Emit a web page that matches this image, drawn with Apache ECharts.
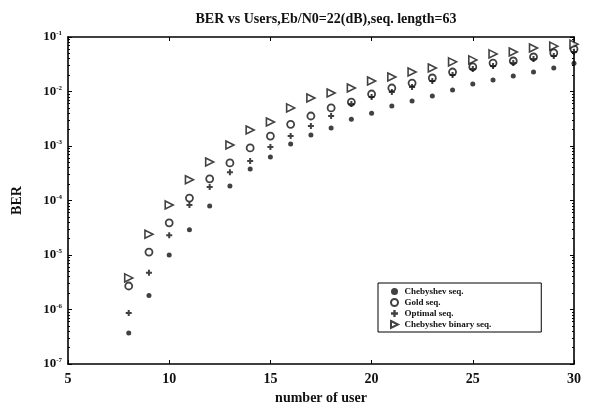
<!DOCTYPE html>
<html>
<head>
<meta charset="utf-8">
<script src="https://cdn.jsdelivr.net/npm/echarts@6/dist/echarts.min.js"></script>
<style>
  html, body { margin: 0; padding: 0; background: #fff; }
  #main { width: 594px; height: 411px; }
</style>
</head>
<body>
<div id="main"></div>
<script>
var users = [8, 9, 10, 11, 12, 13, 14, 15, 16, 17, 18, 19, 20, 21, 22, 23, 24, 25, 26, 27, 28, 29, 30];

// BER values
var chebySeq = [3.7e-7, 1.8e-6, 1.0e-5, 2.9e-5, 7.9e-5, 1.85e-4, 3.8e-4, 6.3e-4, 1.09e-3, 1.59e-3, 2.14e-3, 3.1e-3,
  4.0e-3, 5.4e-3, 6.7e-3, 8.3e-3, 1.07e-2, 1.37e-2, 1.63e-2, 1.92e-2, 2.28e-2, 2.7e-2, 3.3e-2];
var goldSeq = [2.7e-6, 1.13e-5, 3.9e-5, 1.11e-4, 2.5e-4, 4.9e-4, 9.2e-4, 1.52e-3, 2.5e-3, 3.55e-3, 5.0e-3, 6.4e-3,
  9.0e-3, 1.16e-2, 1.43e-2, 1.77e-2, 2.28e-2, 2.82e-2, 3.33e-2, 3.63e-2, 4.3e-2, 5.1e-2, 6.0e-2];
var optimalSeq = [8.6e-7, 4.7e-6, 2.3e-5, 8.3e-5, 1.77e-4, 3.3e-4, 5.3e-4, 9.6e-4, 1.52e-3, 2.33e-3, 3.55e-3, 5.9e-3,
  7.9e-3, 9.8e-3, 1.21e-2, 1.56e-2, 2.0e-2, 2.6e-2, 2.94e-2, 3.33e-2, 3.95e-2, 4.5e-2, 5.3e-2];
var chebyBinSeq = [3.8e-6, 2.4e-5, 8.3e-5, 2.4e-4, 5.1e-4, 1.04e-3, 1.97e-3, 2.75e-3, 5.0e-3, 7.6e-3, 9.4e-3, 1.16e-2,
  1.56e-2, 1.85e-2, 2.28e-2, 2.7e-2, 3.5e-2, 3.8e-2, 4.9e-2, 5.3e-2, 6.3e-2, 6.8e-2, 7.4e-2];

var seriesNames = ['Chebyshev seq.', 'Gold seq.', 'Optimal seq.', 'Chebyshev binary seq.'];

var font = 'Liberation Serif';
var plusPath = 'path://M2,0H4V2H6V4H4V6H2V4H0V2H2Z';
var triRight = 'path://M0,0L10,5L0,10Z';

function pairs(arr) {
  return users.map(function (u, i) { return [u, arr[i]]; });
}

function logLabel(v) {
  var e = Math.round(Math.log(v) / Math.LN10);
  return '10{e|' + e + '}';
}

var myChart = echarts.init(document.getElementById('main'));

var axisLine = { lineStyle: { color: '#000', width: 1.6 } };
var axisTick = { inside: true, length: 4, lineStyle: { color: '#000' } };
var minorTick = { show: true, splitNumber: 9, length: 2, lineStyle: { color: '#000' } };

var option = {
  backgroundColor: '#fff',
  animation: false,
  title: {
    text: 'BER vs Users,Eb/N0=22(dB),seq. length=63',
    left: 321,
    top: 7,
    textAlign: 'center',
    textStyle: { fontFamily: font, fontSize: 14, fontWeight: 'bold', color: '#111' }
  },
  grid: { left: 68, right: 20, top: 37, bottom: 47 },
  legend: {
    orient: 'vertical',
    left: 378,
    top: 283,
    data: [
      { name: seriesNames[0], icon: 'circle' },
      { name: seriesNames[1], icon: 'circle' },
      { name: seriesNames[2], icon: plusPath },
      { name: seriesNames[3], icon: triRight }
    ],
    itemWidth: 10,
    itemHeight: 7,
    itemGap: 2,
    padding: [4, 50, 3, 12],
    borderColor: '#000',
    borderWidth: 1,
    backgroundColor: '#fff',
    textStyle: { fontFamily: font, fontSize: 9, fontWeight: 'bold', color: '#111' }
  },
  xAxis: [{
    type: 'value',
    min: 5, max: 30, interval: 5,
    name: 'number of user',
    nameLocation: 'middle',
    nameGap: 26,
    nameTextStyle: { fontFamily: font, fontSize: 14, fontWeight: 'bold', color: '#111' },
    axisLabel: { fontFamily: font, fontSize: 14, fontWeight: 'bold', color: '#111', margin: 8 },
    axisLine: axisLine, axisTick: axisTick, splitLine: { show: false }
  }, {
    type: 'value',
    position: 'top',
    min: 5, max: 30, interval: 5,
    axisLabel: { show: false },
    axisLine: axisLine, axisTick: axisTick, splitLine: { show: false }
  }],
  yAxis: [{
    type: 'log',
    logBase: 10,
    min: 1e-7, max: 1e-1,
    name: 'BER',
    nameLocation: 'middle',
    nameGap: 44,
    nameRotate: 90,
    nameTextStyle: { fontFamily: font, fontSize: 14, fontWeight: 'bold', color: '#111' },
    axisLabel: {
      formatter: logLabel,
      fontFamily: font, fontSize: 13, fontWeight: 'bold', color: '#111', margin: 6,
      rich: {
        e: { fontFamily: font, fontSize: 7, fontWeight: 'bold', color: '#111', verticalAlign: 'top', padding: [0, 0, 7, 0] }
      }
    },
    minorTick: minorTick,
    axisLine: axisLine, axisTick: axisTick, splitLine: { show: false }
  }, {
    type: 'log',
    logBase: 10,
    min: 1e-7, max: 1e-1,
    position: 'right',
    axisLabel: { show: false },
    minorTick: minorTick,
    axisLine: axisLine, axisTick: axisTick, splitLine: { show: false }
  }],
  series: [{
    name: seriesNames[0],
    type: 'scatter',
    symbol: 'circle',
    symbolSize: 5,
    itemStyle: { color: '#111' },
    data: pairs(chebySeq)
  }, {
    name: seriesNames[1],
    type: 'scatter',
    symbol: 'circle',
    symbolSize: 7,
    itemStyle: { color: '#fff', borderColor: '#111', borderWidth: 1.8 },
    data: pairs(goldSeq)
  }, {
    name: seriesNames[2],
    type: 'scatter',
    symbol: plusPath,
    symbolSize: 6,
    itemStyle: { color: '#111' },
    data: pairs(optimalSeq)
  }, {
    name: seriesNames[3],
    type: 'scatter',
    symbol: triRight,
    symbolSize: 8,
    itemStyle: { color: '#fff', borderColor: '#111', borderWidth: 1.6 },
    data: pairs(chebyBinSeq)
  }]
};

myChart.setOption(option);
</script>
</body>
</html>
